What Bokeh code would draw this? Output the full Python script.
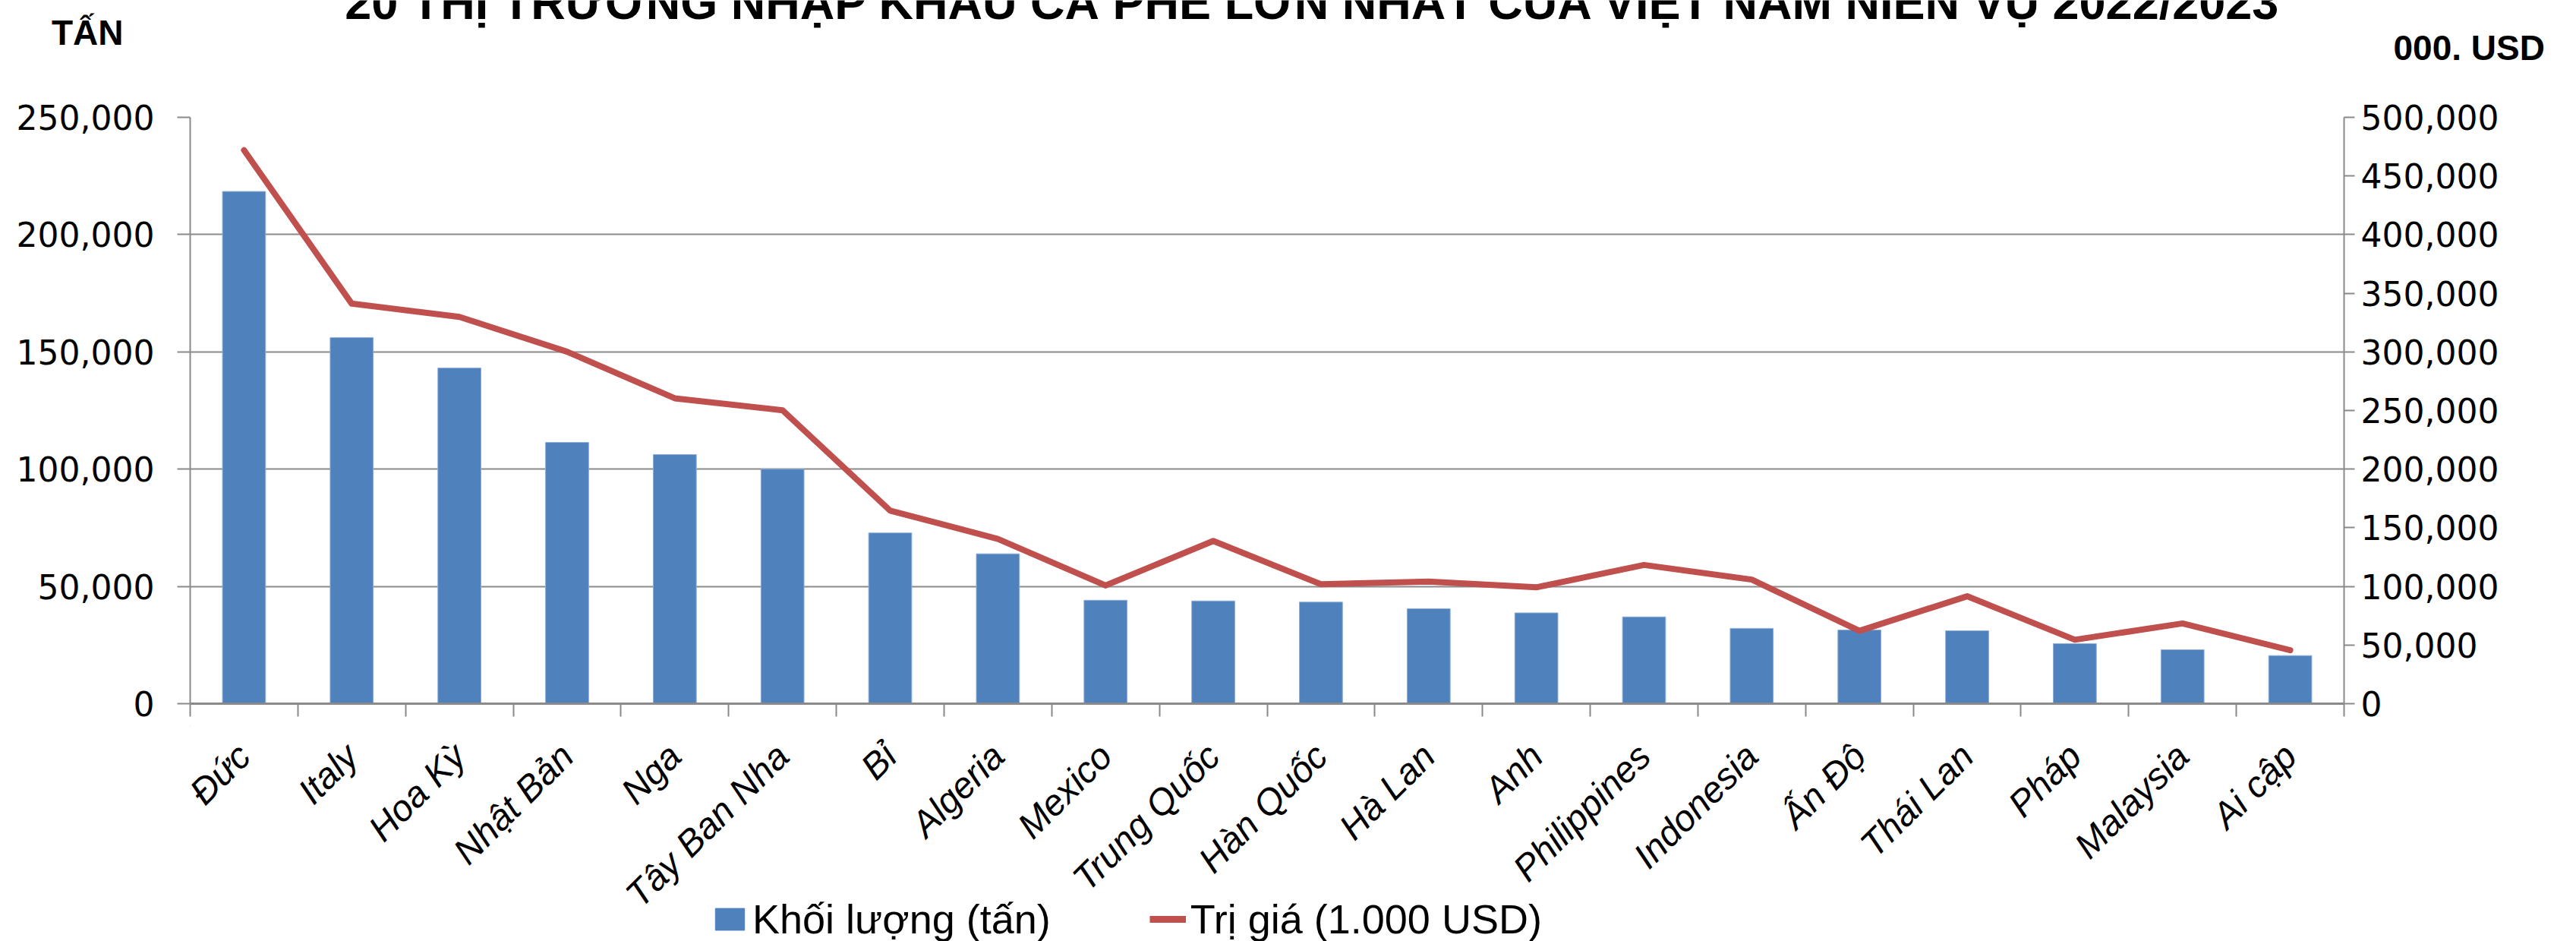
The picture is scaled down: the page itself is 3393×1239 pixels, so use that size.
import math
from bokeh.plotting import figure
from bokeh.layouts import column
from bokeh.models import (Range1d, LinearAxis, FixedTicker, NumeralTickFormatter,
                          Legend, LegendItem, ColumnDataSource)
from bokeh.core.properties import value
from bokeh.embed import file_html
from bokeh.resources import INLINE

# ---------------- data ----------------
markets = ["Đức", "Italy", "Hoa Kỳ", "Nhật Bản", "Nga", "Tây Ban Nha", "Bỉ", "Algeria",
           "Mexico", "Trung Quốc", "Hàn Quốc", "Hà Lan", "Anh", "Philippines", "Indonesia",
           "Ấn Độ", "Thái Lan", "Pháp", "Malaysia", "Ai cập"]
volume_tons = [218400, 156100, 143100, 111400, 106200, 100000, 72800, 63900,
               44100, 43800, 43300, 40500, 38700, 37000, 32100,
               31400, 31100, 25600, 23000, 20500]
value_kusd = [472000, 341100, 329800, 300100, 260400, 250200, 164600, 140500,
              100800, 138800, 101800, 104100, 99200, 118300, 105800,
              62100, 91600, 54500, 68400, 45600]
left_ticks = [0, 50000, 100000, 150000, 200000, 250000]
right_ticks = [0, 50000, 100000, 150000, 200000, 250000, 300000, 350000, 400000, 450000, 500000]
title_text = "20 THỊ TRƯỜNG NHẬP KHẨU CÀ PHÊ LỚN NHẤT CỦA VIỆT NAM NIÊN VỤ 2022/2023"
left_unit = "TẤN"
right_unit = "000. USD"
legend_labels = ["Khối lượng (tấn)", "Trị giá (1.000 USD)"]

# ---------------- styling / layout ----------------
BAR = "#4F81BD"
LINE = "#C0504D"
GREY = "#8a8a8a"
TICK_FONT = "DejaVu Sans"
SANS = "Liberation Sans"
W = 3385
BL, BR = 250, 298            # left / right borders shared by all strips (frames aligned)
TOP_H, MAIN_H, BOT_H = 100, 856, 283
n = len(markets)
xs = [i + 0.5 for i in range(n)]


def strip(height, x_range):
    f = figure(width=W, height=height, x_range=x_range,
               y_range=Range1d(height, 0), output_backend="svg", toolbar_location=None,
               x_axis_location=None, y_axis_location=None, title=None,
               min_border_left=BL, min_border_right=BR, min_border_top=0, min_border_bottom=0)
    f.grid.visible = False
    f.outline_line_color = None
    return f


def text_axis(tick, label, standoff):
    ax = LinearAxis(ticker=FixedTicker(ticks=[tick], minor_ticks=[]))
    ax.major_label_overrides = {tick: label}
    ax.axis_line_color = None
    ax.major_tick_line_color = None
    ax.minor_tick_line_color = None
    ax.major_tick_out = 0
    ax.major_tick_in = 0
    ax.major_label_standoff = standoff
    ax.major_label_text_font = SANS
    ax.major_label_text_font_style = "bold"
    ax.major_label_text_font_size = "46px"
    ax.major_label_text_color = "black"
    return ax


# ---------------- header strip: title (cut by the top edge) and unit labels ----------------
top = strip(TOP_H, Range1d(BL, W - BR))
top.text(x=[1729], y=[2], text=[title_text], text_align="center", text_baseline="alphabetic",
         text_font=value(SANS), text_font_style="bold", text_font_size="63px", text_color="black")
top.add_layout(text_axis(42.0, left_unit, 88), "left")
top.add_layout(text_axis(62.0, right_unit, 65), "right")

# ---------------- main chart ----------------
src = ColumnDataSource(dict(x=xs, vol=volume_tons, val=value_kusd, name=markets))

p = figure(width=W, height=MAIN_H, x_range=Range1d(0, n), y_range=Range1d(0, 250000),
           output_backend="svg", toolbar_location=None, title=None,
           min_border_left=BL, min_border_right=BR, min_border_top=54, min_border_bottom=30)
p.extra_y_ranges = {"usd": Range1d(0, 500000)}
p.outline_line_color = None

p.xgrid.visible = False
p.ygrid.ticker = FixedTicker(ticks=left_ticks)
p.ygrid.grid_line_color = GREY
p.ygrid.grid_line_width = 2

# x axis: tick marks at category boundaries (names are set in the strip below)
xa = p.xaxis[0]
xa.ticker = FixedTicker(ticks=[], minor_ticks=list(range(n + 1)))
xa.major_tick_out = 0
xa.major_tick_in = 0
xa.minor_tick_out = 17
xa.minor_tick_in = 0
xa.minor_tick_line_color = GREY
xa.minor_tick_line_width = 2
xa.axis_line_color = GREY
xa.axis_line_width = 3
xa.major_label_standoff = 0

# left axis (tonnes)
ya = p.yaxis[0]
ya.ticker = FixedTicker(ticks=left_ticks, minor_ticks=[])
ya.formatter = NumeralTickFormatter(format="0,0")
ya.major_tick_out = 17
ya.major_tick_in = 0
ya.minor_tick_out = 0
ya.minor_tick_in = 0
ya.major_tick_line_color = GREY
ya.major_tick_line_width = 2
ya.axis_line_color = GREY
ya.axis_line_width = 2
ya.major_label_text_font = TICK_FONT
ya.major_label_text_font_size = "44px"
ya.major_label_text_color = "black"
ya.major_label_standoff = 30

# right axis (thousand USD)
ra = LinearAxis(y_range_name="usd")
ra.ticker = FixedTicker(ticks=right_ticks, minor_ticks=[])
ra.formatter = NumeralTickFormatter(format="0,0")
ra.major_tick_out = 14
ra.major_tick_in = 0
ra.minor_tick_out = 0
ra.minor_tick_in = 0
ra.major_tick_line_color = GREY
ra.major_tick_line_width = 2
ra.axis_line_color = GREY
ra.axis_line_width = 2
ra.major_label_text_font = TICK_FONT
ra.major_label_text_font_size = "44px"
ra.major_label_text_color = "black"
ra.major_label_standoff = 8
p.add_layout(ra, "right")

p.vbar(x="x", top="vol", bottom=0, width=0.4, source=src,
       fill_color=BAR, line_color="#8fb0da", line_width=1)
p.line(x="x", y="val", source=src, y_range_name="usd",
       line_color=LINE, line_width=8, line_cap="round", line_join="round")

# ---------------- bottom strip: rotated category names + legend ----------------
bot = strip(BOT_H, Range1d(0, n))
bot.text(x="x", y=31, text="name", source=src, angle=math.pi / 4,
         text_align="right", text_baseline="middle",
         text_font=value(SANS), text_font_style="italic", text_font_size="48px",
         text_color="black")

dummy = ColumnDataSource(dict(x=[-5], y=[0]))
leg_bar = bot.vbar(x="x", top="y", width=0.1, source=dummy, fill_color=BAR, line_color=BAR)
leg_line = bot.line(x="x", y="y", source=dummy, line_color=LINE, line_width=9)
legend = Legend(items=[LegendItem(label=legend_labels[0], renderers=[leg_bar]),
                       LegendItem(label=legend_labels[1], renderers=[leg_line])],
                orientation="horizontal", location=(687, -2))
legend.border_line_color = None
legend.background_fill_alpha = 0
legend.label_text_font = SANS
legend.label_text_font_size = "54px"
legend.label_text_color = "black"
legend.glyph_width = 48
legend.glyph_height = 36
legend.label_standoff = 6
legend.spacing = 130
legend.padding = 0
legend.margin = 0
bot.add_layout(legend)

layout = column(top, p, bot, spacing=0)
open("out.html", "w").write(file_html(layout, INLINE))
